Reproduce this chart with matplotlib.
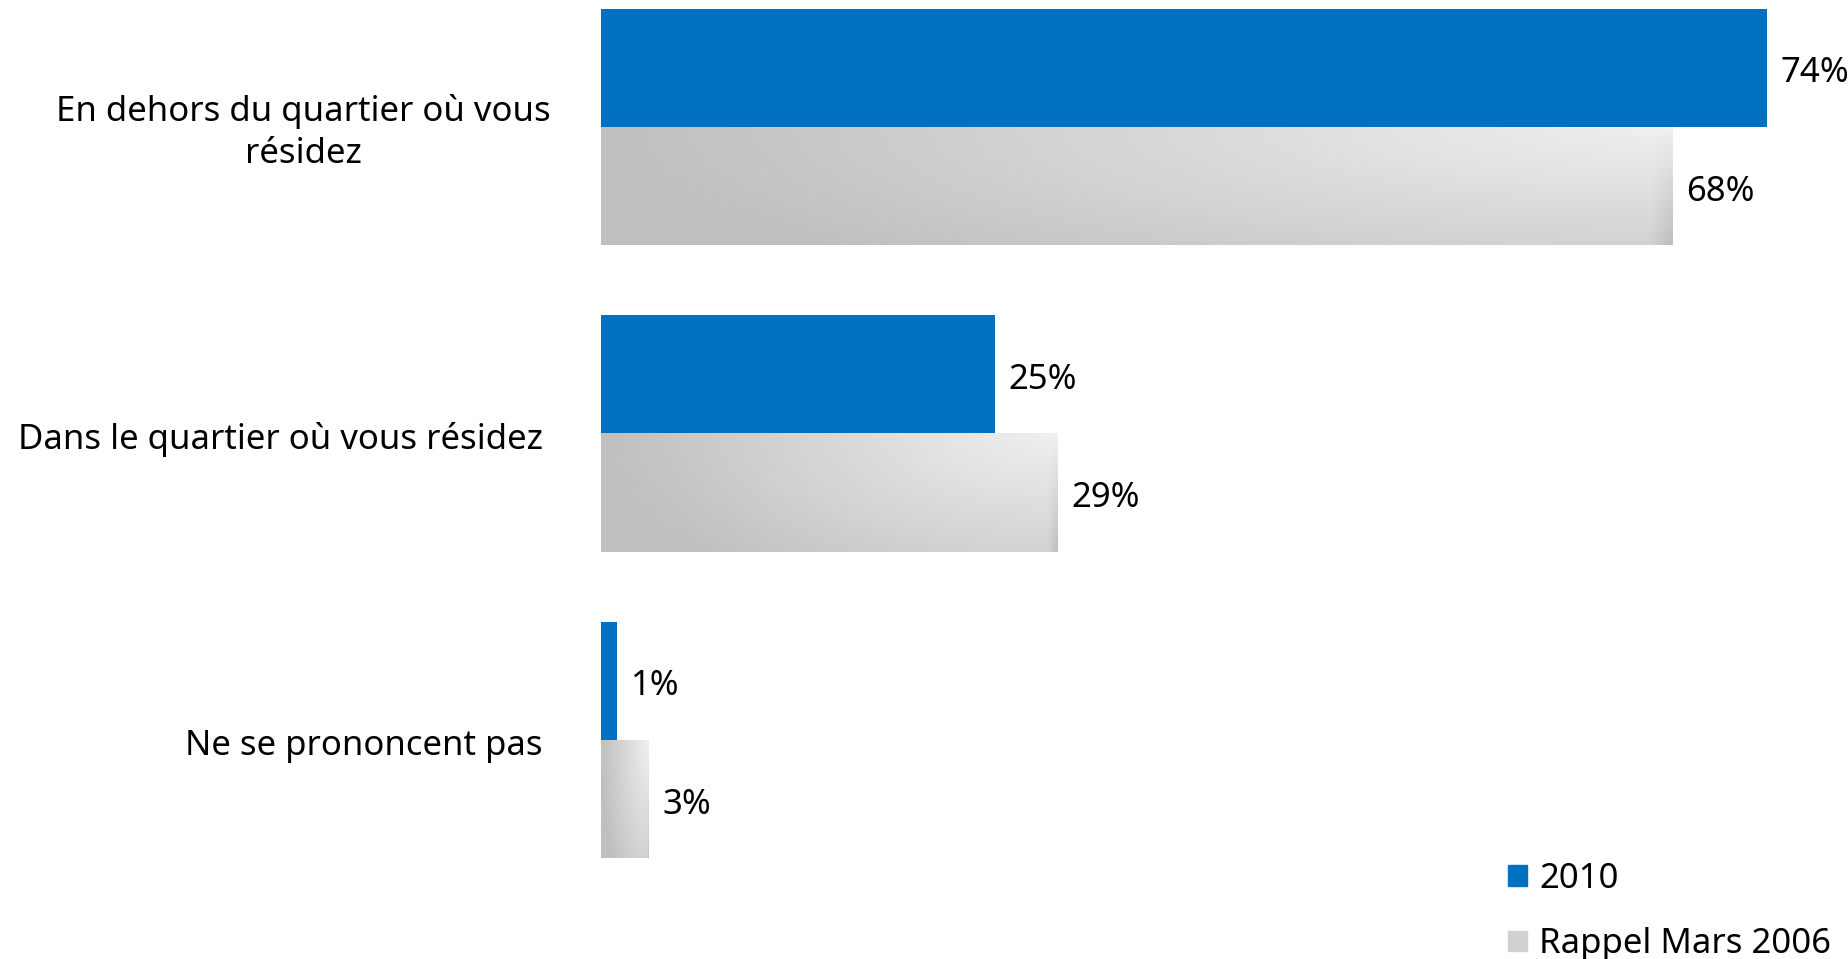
import numpy as np
import matplotlib.pyplot as plt
from matplotlib.patches import Patch

plt.rcParams['font.family'] = ['Noto Sans', 'DejaVu Sans']

categories = ["En dehors du quartier où vous\nrésidez",
              "Dans le quartier où vous résidez",
              "Ne se prononcent pas"]
values_2010 = [74, 25, 1]
values_2006 = [68, 29, 3]
series_names = ["2010", "Rappel Mars 2006"]

blue = '#0070C0'
fs = 25

fig = plt.figure(figsize=(18.49, 9.59), dpi=100)
# axes placed so that the bars start at x=601px and 1% = ~15.76px
ax = fig.add_axes([601 / 1849, 0.00464, 1229 / 1849, 0.99397])

y = np.arange(len(categories))
h = 0.3866

bars_new = ax.barh(y - h / 2, values_2010, height=h, color=blue, label=series_names[0])
bars_old = ax.barh(y + h / 2, values_2006, height=h, color='#d4d4d4', label=series_names[1])

# gradient fill for the 2006 bars (dark on the left, light at top right)
gx, gy = np.meshgrid(np.linspace(0, 1, 300), np.linspace(0, 1, 60))
for b in bars_old:
    x0, y0 = b.get_x(), b.get_y()
    w, hh = b.get_width(), b.get_height()
    dist = np.sqrt((1 - gx) ** 2 + (gy * 0.6) ** 2)
    val = 0.94 - 0.19 * np.clip(dist, 0, 1)
    # soft shadow on the right edge, stronger at the bottom
    edge = np.clip((gx - 0.98) / 0.02, 0, 1) * gy
    val = val - 0.08 * edge
    img = np.dstack([val, val, val])
    im = ax.imshow(img, extent=(x0, x0 + w, y0 + hh, y0), aspect='auto',
                   interpolation='bilinear', zorder=2)
    im.set_clip_path(b)

for bars in (bars_new, bars_old):
    for b in bars:
        ax.annotate(f"{int(b.get_width())}%",
                    (b.get_width(), b.get_y() + b.get_height() / 2),
                    xytext=(10, -4), textcoords='offset points',
                    ha='left', va='center', fontsize=fs)

offsets = [-36, -42, -42]
for i, cat in enumerate(categories):
    ax.annotate(cat, (0, y[i]), xytext=(offsets[i], -4), textcoords='offset points',
                ha='right', va='center', multialignment='center',
                fontsize=fs, linespacing=1.3)

ax.set_xlim(0, 78)
ax.set_ylim(2.7, -0.41)
ax.axis('off')

handles = [Patch(color=blue), Patch(color='#d0d0d0')]
ax.legend(handles, series_names, loc='upper left', frameon=False,
          bbox_to_anchor=(1508 / 1849, 1 - 862 / 959), bbox_transform=fig.transFigure,
          fontsize=fs, handlelength=0.55, handleheight=0.55, handletextpad=0.35,
          labelspacing=0.9, borderpad=0, borderaxespad=0)

fig.savefig('out.png', dpi=100)
